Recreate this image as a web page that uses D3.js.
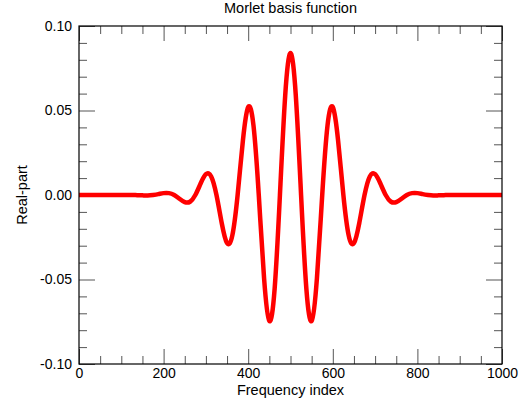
<!DOCTYPE html>
<html>
<head>
<meta charset="utf-8">
<script src="https://cdn.jsdelivr.net/npm/d3@7"></script>
<style>
  body { margin: 0; background: #fff; }
  text { font-family: "Liberation Sans", Arial, Helvetica, sans-serif; fill: #000; }
  .tick line { stroke: #555; }
  .domain { display: none; }
</style>
</head>
<body>
<svg id="chart"></svg>
<script>
// Chart text
const title = "Morlet basis function";
const xLabel = "Frequency index";
const yLabel = "Real-part";

// Axis ticks
const xMajorTicks = [0, 200, 400, 600, 800, 1000];
const yMajorTicks = [-0.10, -0.05, 0.00, 0.05, 0.10];

// Sample positions (frequency index) and real-part values
const freqIndex = d3.range(0, 1000.1, 12.5);
const realPart = [
    0, 0, 0, 0, 0, 0, 0, 0, 0, 0,
    0, -0.0001, -0.0002, -0.0003, 0, 0.0005, 0.0011, 0.0011, 0, -0.0022,
    -0.0042, -0.0040, 0, 0.0068, 0.0123, 0.0110, 0, -0.0167, -0.0285, -0.0239,
    0, 0.0323, 0.0520, 0.0411, 0, -0.0492, -0.0745, -0.0555, 0, 0.0590,
    0.0840,
    0.0590, 0, -0.0555, -0.0745, -0.0492, 0, 0.0411, 0.0520, 0.0323, 0,
    -0.0239, -0.0285, -0.0167, 0, 0.0110, 0.0123, 0.0068, 0, -0.0040, -0.0042,
    -0.0022, 0, 0.0011, 0.0011, 0.0005, 0, -0.0003, -0.0002, -0.0001, 0,
    0, 0, 0, 0, 0, 0, 0, 0, 0, 0
];

const width = 526;
const height = 401;
const margin = { top: 26, right: 24, bottom: 37, left: 79 };

const svg = d3.select("#chart")
    .attr("width", width)
    .attr("height", height);

const x = d3.scaleLinear().domain([0, 1000]).range([margin.left, width - margin.right]);
const y = d3.scaleLinear().domain([-0.1, 0.1]).range([height - margin.bottom, margin.top]);

const plotW = width - margin.left - margin.right;
const plotH = height - margin.top - margin.bottom;

// plain hyphen minus like the original
const yFmt = v => d3.format(".2f")(v).replace("\u2212", "-");

// minor ticks
const xMinor = d3.range(0, 1001, 50).filter(v => v % 200 !== 0);
const yMinor = d3.range(-10, 11, 1).map(v => v / 100).filter((v, i) => (i % 5) !== 0);

// bottom + top axes
svg.append("g")
    .attr("transform", `translate(0,${height - margin.bottom})`)
    .call(d3.axisBottom(x).tickValues(xMajorTicks).tickSize(-15).tickPadding(4).tickFormat(d3.format("d")))
    .call(g => g.selectAll("text").attr("font-size", 14).attr("font-family", null));
svg.append("g")
    .attr("transform", `translate(0,${height - margin.bottom})`)
    .call(d3.axisBottom(x).tickValues(xMinor).tickSize(-8).tickFormat(""));
svg.append("g")
    .attr("transform", `translate(0,${margin.top})`)
    .call(d3.axisTop(x).tickValues(xMajorTicks).tickSize(-15).tickFormat(""));
svg.append("g")
    .attr("transform", `translate(0,${margin.top})`)
    .call(d3.axisTop(x).tickValues(xMinor).tickSize(-8).tickFormat(""));

// left + right axes
svg.append("g")
    .attr("transform", `translate(${margin.left},0)`)
    .call(d3.axisLeft(y).tickValues(yMajorTicks).tickSize(-16).tickPadding(7).tickFormat(yFmt))
    .call(g => g.selectAll("text").attr("font-size", 14).attr("font-family", null));
svg.append("g")
    .attr("transform", `translate(${margin.left},0)`)
    .call(d3.axisLeft(y).tickValues(yMinor).tickSize(-8).tickFormat(""));
svg.append("g")
    .attr("transform", `translate(${width - margin.right},0)`)
    .call(d3.axisRight(y).tickValues(yMajorTicks).tickSize(-16).tickFormat(""));
svg.append("g")
    .attr("transform", `translate(${width - margin.right},0)`)
    .call(d3.axisRight(y).tickValues(yMinor).tickSize(-8).tickFormat(""));

// the curve
const line = d3.line()
    .x((d, i) => x(freqIndex[i]))
    .y(d => y(d))
    .curve(d3.curveNatural);

svg.append("path")
    .datum(realPart)
    .attr("d", line)
    .attr("fill", "none")
    .attr("stroke", "#ff0000")
    .attr("stroke-width", 4.5)
    .attr("stroke-linejoin", "round");

// frame
svg.append("rect")
    .attr("x", margin.left)
    .attr("y", margin.top)
    .attr("width", plotW)
    .attr("height", plotH)
    .attr("fill", "none")
    .attr("stroke", "#000")
    .attr("stroke-width", 1.2);

// title + labels
svg.append("text")
    .attr("x", margin.left + plotW / 2)
    .attr("y", 13)
    .attr("text-anchor", "middle")
    .attr("font-size", 14.5)
    .text(title);

svg.append("text")
    .attr("x", margin.left + plotW / 2)
    .attr("y", 395)
    .attr("text-anchor", "middle")
    .attr("font-size", 14.5)
    .text(xLabel);

svg.append("text")
    .attr("transform", `translate(27,${margin.top + plotH / 2}) rotate(-90)`)
    .attr("text-anchor", "middle")
    .attr("font-size", 14.5)
    .text(yLabel);
</script>
</body>
</html>
